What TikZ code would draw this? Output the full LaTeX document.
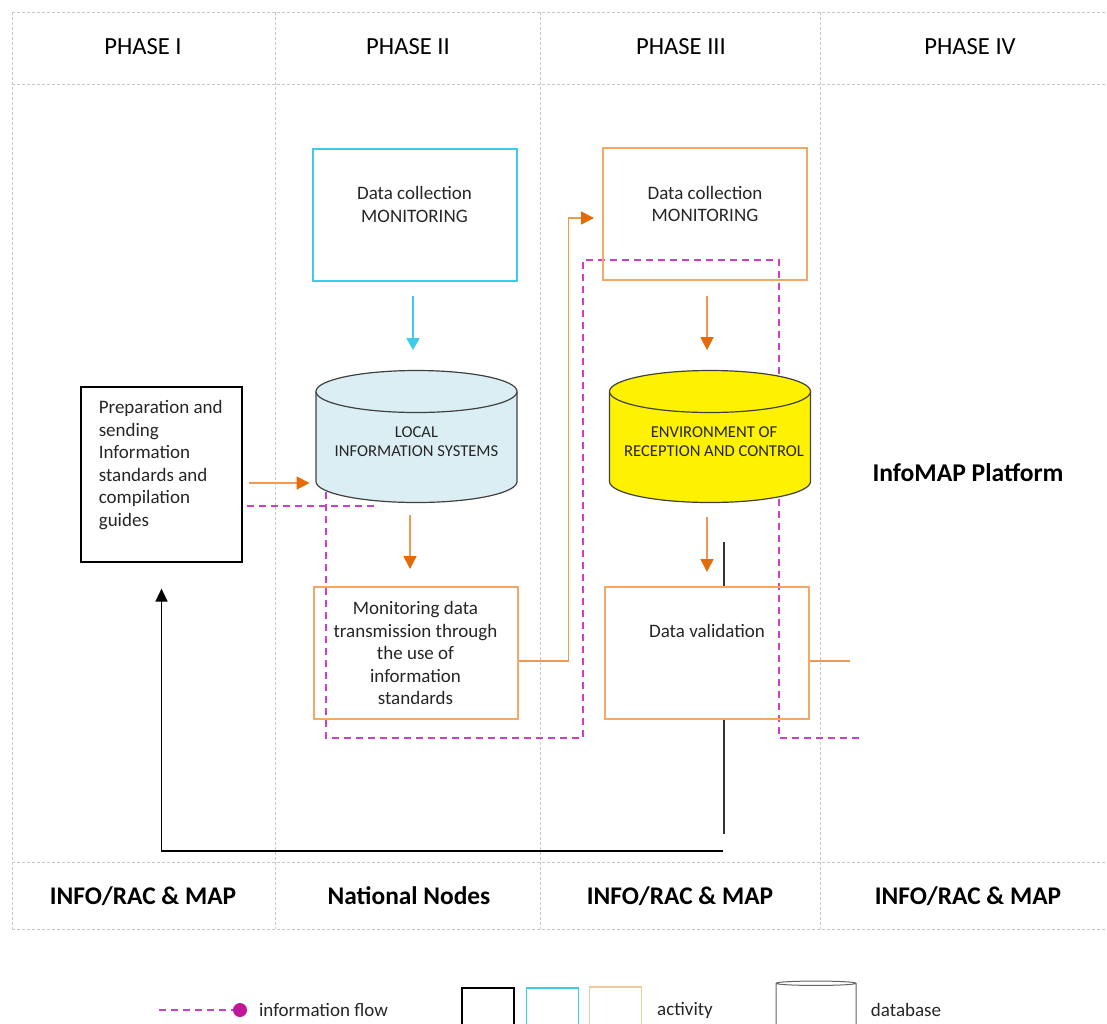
\documentclass[tikz,border=0pt]{standalone}
\usepackage{fontspec}
\setmainfont{Carlito}
\usetikzlibrary{shapes.geometric,arrows.meta}
\definecolor{gridgray}{HTML}{C8C8C8}
\definecolor{actorange}{HTML}{F4A868}
\definecolor{lineorange}{HTML}{EE9A55}
\definecolor{arrorange}{HTML}{E36C09}
\definecolor{actcyan}{HTML}{3CCBEA}
\definecolor{flowpink}{HTML}{CC3FC4}
\definecolor{flowdot}{HTML}{C0179A}
\definecolor{lisblue}{HTML}{DAEEF3}
\definecolor{tanbox}{HTML}{EDCB9A}
\definecolor{txtgray}{HTML}{262626}
\begin{document}
\begin{tikzpicture}[x=0.5pt,y=-0.5pt,
  tablegrid/.style={draw=gridgray,line width=0.5pt,dash pattern=on 1.5pt off 1pt},
  phase/.style={font=\fontsize{12.3}{14}\selectfont},
  unitlbl/.style={font=\bfseries\fontsize{12.7}{15}\selectfont},
  platform/.style={font=\bfseries\fontsize{12.8}{15}\selectfont},
  actbox/.style={rectangle,line width=1pt,minimum width=102pt,minimum height=66pt},
  acttext/.style={align=center,text=txtgray,font=\fontsize{9.5}{11.25}\selectfont},
  dbnode/.style={rectangle,minimum width=100.5pt,minimum height=66pt,inner sep=0pt},
  dbtext/.style={align=center,text=txtgray,font=\fontsize{8.3}{9.6}\selectfont},
  dbcyl/.pic={
    \path[pic actions] (-50.25pt,22.5pt) -- (-50.25pt,-22.5pt)
      arc[start angle=180,end angle=360,x radius=50.25pt,y radius=10.5pt]
      -- (50.25pt,22.5pt)
      arc[start angle=0,end angle=180,x radius=50.25pt,y radius=10.5pt] -- cycle;
    \path[pic actions] (-50.25pt,22.5pt)
      arc[start angle=180,end angle=360,x radius=50.25pt,y radius=10.5pt];
  },
  orarrow/.style={draw=lineorange,line width=0.8pt,-{Triangle[length=6.5pt,width=6.5pt,color=arrorange]}},
  cyarrow/.style={draw=actcyan,line width=0.8pt,-{Triangle[length=6pt,width=6.5pt]}},
  orline/.style={draw=lineorange,line width=0.8pt},
  blkline/.style={draw=black!80,line width=0.7pt},
  blkarrow/.style={draw=black,line width=0.8pt,-{Triangle[length=6.5pt,width=6pt]}},
  flowline/.style={draw=flowpink,line width=0.6pt,dash pattern=on 3.5pt off 2.5pt},
  keybox/.style={rectangle,line width=0.6pt,minimum width=26pt,minimum height=25pt},
  keytext/.style={font=\fontsize{9.5}{11}\selectfont,text=txtgray},
]
\useasboundingbox (0,0) rectangle (1107,1023);
\clip (0,0) rectangle (1107,1023);
% table of the phases
\foreach \y in {12,84,862,929}
  \draw[tablegrid] (12,\y) -- (1107,\y);
\foreach \x in {12,275,540,820}
  \draw[tablegrid] (\x,12) -- (\x,929);
\node[phase] (ph1) at (143,47) {PHASE I};
\node[phase] (ph2) at (408,47) {PHASE II};
\node[phase] (ph3) at (681,47) {PHASE III};
\node[phase] (ph4) at (970,47) {PHASE IV};
\node[unitlbl] (un1) at (143,896) {INFO/RAC \& MAP};
\node[unitlbl] (un2) at (409,896) {National Nodes};
\node[unitlbl] (un3) at (680,896) {INFO/RAC \& MAP};
\node[unitlbl] (un4) at (968,896) {INFO/RAC \& MAP};
% information flow (behind the databases)
\coordinate (fa) at (247,506);
\coordinate (fb) at (376,506);
\coordinate (fc) at (326,492);
\coordinate (fd) at (863,738);
\draw[flowline] (fa) -- (fb);
\draw[flowline] (fc) |- (583,738) |- (779,260) |- (fd);
% activities and databases
\node[actbox,draw=black,line width=0.6pt,minimum width=80.5pt,minimum height=87.5pt] (prep) at (161.5,474.5) {};
\node[acttext,align=left,inner sep=0pt,anchor=west] (prept) at ([xshift=9pt,yshift=4.75pt]prep.west)
  {Preparation and\\sending\\Information\\standards and\\compilation\\guides};
\node[actbox,draw=actcyan] (col2) at (414.5,214.5) {};
\node[acttext] (col2t) at ([yshift=5pt]col2.center) {Data collection\\MONITORING};
\pic[draw=black!75,fill=lisblue,line width=0.6pt] at (416.5,436.5) {dbcyl};
\node[dbnode] (lis) at (416.5,436.5) {};
\node[dbtext] (list) at ([yshift=-2.5pt]lis.center) {LOCAL\\INFORMATION SYSTEMS};
\node[actbox,draw=actorange,acttext] (mon) at (415.5,653)
  {Monitoring data\\transmission through\\the use of\\information\\standards};
\node[actbox,draw=actorange] (col3) at (705,214) {};
\node[acttext] (col3t) at ([yshift=5pt]col3.center) {Data collection\\MONITORING};
\pic[draw=black!75,fill=yellow,line width=0.6pt] at (710,436.5) {dbcyl};
\node[dbnode] (erc) at (710,436.5) {};
\node[dbtext] (erct) at ([xshift=2pt,yshift=-2.5pt]erc.center) {ENVIRONMENT OF\\RECEPTION AND CONTROL};
\node[actbox,draw=actorange] (val) at (707,653) {};
\node[acttext] (valt) at ([yshift=11pt]val.center) {Data validation};
\node[platform] (plat) at (968,473) {InfoMAP Platform};
% arrows between activities
\draw[cyarrow,shorten <=7pt,shorten >=10pt] (col2.south -| 413,0) -- (lis.north -| 413,0);
\draw[orarrow,shorten <=3pt,shorten >=3pt] (prep.east |- 0,483) -- (lis.west |- 0,483);
\draw[orarrow,shorten <=6pt,shorten >=8.5pt] (lis.south -| 410,0) -- (mon.north -| 410,0);
\draw[orarrow,shorten >=4pt] ([yshift=-4pt]mon.east) -- ++(50,0) |- (col3.west |- 0,218);
\draw[orarrow,shorten <=7.5pt,shorten >=10pt] (col3.south -| 707,0) -- (erc.north -| 707,0);
\draw[orarrow,shorten <=7pt,shorten >=7pt] (erc.south -| 707,0) -- (val.north -| 707,0);
\draw[orline] ([yshift=-4pt]val.east) -- ++(40,0);
% back to phase I
\coordinate (ra) at (724,542);
\coordinate (rb) at (723,851);
\draw[blkline] (ra) -- (ra |- val.north);
\draw[blkline] (ra |- val.south) -- ++(0,114);
\draw[blkarrow] (rb) -| ([yshift=-13pt]prep.south);
% legend
\coordinate (keyflow) at (159,1010);
\node[circle,fill=flowdot,minimum size=7pt,inner sep=0pt] (keydot) at (240,1010) {};
\draw[flowline] (keyflow) -- (keydot.west);
\node[keytext,anchor=west] (keyflowt) at (252,1010) {information flow};
\node[keybox,draw=black] (keyblack) at (488,1013) {};
\node[keybox,draw=actcyan] (keycyan) at (552.5,1013) {};
\node[keybox,draw=tanbox] (keytan) at (615.5,1012) {};
\node[keytext] (keyact) at (685,1010) {activity};
\node[cylinder,shape border rotate=90,aspect=0.33,draw=black!60,line width=0.5pt,
  minimum width=40pt,minimum height=30pt] (keydb) at (816,1013) {};
\node[keytext] (keydbt) at (906,1010) {database};
\end{tikzpicture}
\end{document}
